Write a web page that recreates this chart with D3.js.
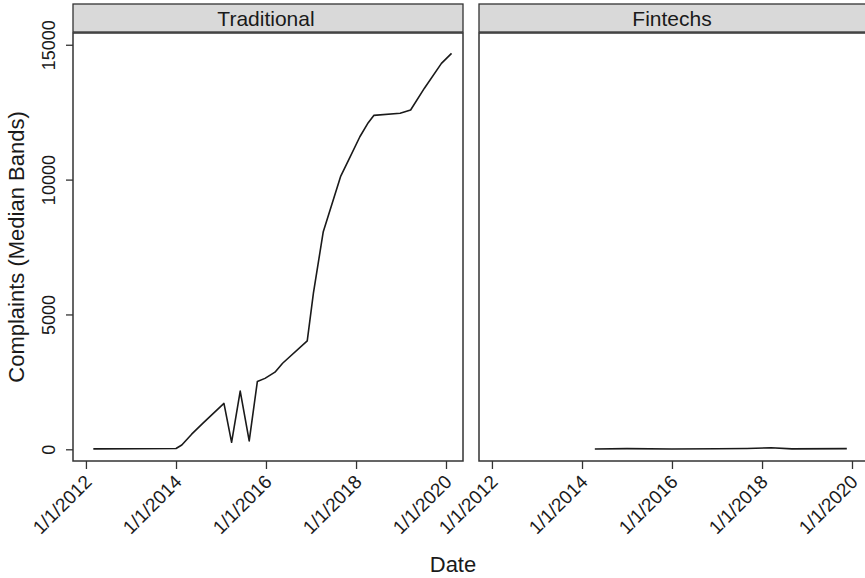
<!DOCTYPE html>
<html>
<head>
<meta charset="utf-8">
<script src="https://cdn.jsdelivr.net/npm/d3@7"></script>
<style>
  body { margin: 0; background: #fff; }
  svg { display: block; font-family: "Liberation Sans", Arial, sans-serif; }
</style>
</head>
<body>
<svg id="chart"></svg>
<script>
const panels = ["Traditional", "Fintechs"];

// Traditional banks, median complaint bands
const tradDates = ["2012-03-01", "2014-01-01", "2014-02-17", "2014-05-08", "2014-08-08",
  "2015-01-25", "2015-03-28", "2015-06-06", "2015-08-18", "2015-10-23", "2015-12-24",
  "2016-03-14", "2016-05-15", "2016-12-01", "2017-01-20", "2017-04-10", "2017-08-30",
  "2017-11-15", "2018-02-01", "2018-04-10", "2018-05-25", "2018-12-25", "2019-03-20",
  "2019-07-10", "2019-11-25", "2020-02-15"];
const tradValues = [15, 30, 160, 560, 970,
  1700, 260, 2160, 310, 2510, 2630,
  2860, 3190, 4020, 5790, 8070, 10130,
  10850, 11590, 12110, 12380, 12460, 12580,
  13390, 14310, 14680];

// Fintechs
const finDates = ["2014-04-15", "2015-01-01", "2016-01-01", "2017-01-01", "2017-09-01",
  "2018-03-15", "2018-09-01", "2019-11-20"];
const finValues = [10, 25, 10, 20, 30, 55, 15, 25];

const yTicks = [0, 5000, 10000, 15000];
const xTickYears = [2012, 2014, 2016, 2018, 2020];

function init() {
  const width = 865, height = 578;
  const panelLeft = [73, 479];
  const panelWidth = 390;
  const plotTop = 33, plotBottom = 461;
  const stripTop = 4, stripHeight = 28;
  const parse = d3.timeParse("%Y-%m-%d");

  const svg = d3.select("#chart")
    .attr("width", width)
    .attr("height", height);

  const series = [
    tradDates.map((d, i) => ({date: parse(d), value: tradValues[i]})),
    finDates.map((d, i) => ({date: parse(d), value: finValues[i]}))
  ];

  let yScale = d3.scaleLinear()
    .domain([-434, 15436])
    .range([plotBottom, plotTop]);

  const fmt = d3.timeFormat("%-m/%-d/%Y");
  const tickDates = xTickYears.map((y) => new Date(y, 0, 1));

  panels.forEach((name, p) => {
    const x0 = panelLeft[p];
    let xScale = d3.scaleTime()
      .domain([new Date(2011, 8, 18), new Date(2020, 4, 18)])
      .range([x0, x0 + panelWidth]);

    const g = svg.append("g").attr("class", "panel");

    // strip
    g.append("rect")
      .attr("x", x0)
      .attr("y", stripTop)
      .attr("width", panelWidth)
      .attr("height", stripHeight)
      .style("fill", "#d9d9d9")
      .style("stroke", "#333")
      .style("stroke-width", 1.3);
    g.append("text")
      .attr("x", x0 + panelWidth / 2 - 2)
      .attr("y", stripTop + stripHeight / 2)
      .attr("dy", "0.36em")
      .attr("text-anchor", "middle")
      .style("font-size", "21px")
      .style("fill", "#1a1a1a")
      .text(name);

    // frame
    g.append("rect")
      .attr("x", x0)
      .attr("y", plotTop)
      .attr("width", panelWidth)
      .attr("height", plotBottom - plotTop)
      .style("fill", "none")
      .style("stroke", "#333")
      .style("stroke-width", 1.5);

    // x axis
    const xAxis = g.append("g")
      .attr("transform", `translate(0,${plotBottom})`)
      .call(d3.axisBottom(xScale).tickValues(tickDates).tickFormat(fmt).tickSize(8));
    xAxis.select(".domain").remove();
    xAxis.selectAll(".tick line").style("stroke", "#333").style("stroke-width", 1.3);
    xAxis.selectAll(".tick text")
      .attr("y", 0)
      .attr("dy", 0)
      .attr("text-anchor", "end")
      .attr("transform", "translate(6.5,22) rotate(-45)")
      .style("font-size", "19px")
      .style("font-family", "Liberation Sans, Arial, sans-serif")
      .style("fill", "#1a1a1a");

    // y axis, left panel only
    if (p === 0) {
      const yAxis = g.append("g")
        .attr("transform", `translate(${x0},0)`)
        .call(d3.axisLeft(yScale).tickValues(yTicks).tickFormat(d3.format("d")).tickSize(7));
      yAxis.select(".domain").remove();
      yAxis.selectAll(".tick line").style("stroke", "#333").style("stroke-width", 1.3);
      yAxis.selectAll(".tick text")
        .attr("x", 0)
        .attr("dy", 0)
        .attr("text-anchor", "middle")
        .attr("transform", "translate(-18,0) rotate(-90)")
        .style("font-size", "18px")
        .style("font-family", "Liberation Sans, Arial, sans-serif")
        .style("fill", "#1a1a1a");
    }

    // line
    g.append("path")
      .datum(series[p])
      .attr("d", d3.line().x((d) => xScale(d.date)).y((d) => yScale(d.value)))
      .style("fill", "none")
      .style("stroke", "#1a1a1a")
      .style("stroke-width", 1.6)
      .style("stroke-linejoin", "round");
  });

  // axis titles
  svg.append("text")
    .attr("transform", `translate(24,${(plotTop + plotBottom) / 2}) rotate(-90)`)
    .attr("text-anchor", "middle")
    .style("font-size", "22px")
    .style("fill", "#1a1a1a")
    .text("Complaints (Median Bands)");

  svg.append("text")
    .attr("x", 453)
    .attr("y", 572)
    .attr("text-anchor", "middle")
    .style("font-size", "22px")
    .style("fill", "#1a1a1a")
    .text("Date");
}

init();
</script>
</body>
</html>
